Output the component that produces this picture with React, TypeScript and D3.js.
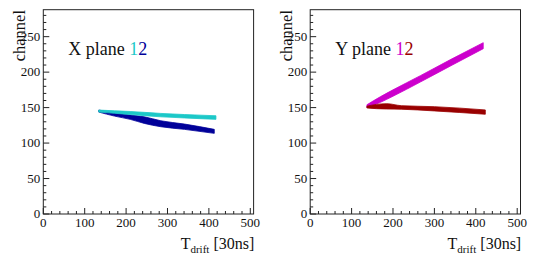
import React from 'react';
import * as d3 from 'd3';

// drift-time samples and channel bands (lower / upper edge)
const xPlane1T = [134, 172, 210, 244, 284, 341, 417];
const xPlane1Lo = [143.7, 142.0, 140.2, 138.6, 137.0, 135.4, 133.4];
const xPlane1Hi = [146.5, 145.5, 144.5, 143.3, 141.8, 140.2, 138.5];

const xPlane2T = [134, 172, 210, 244, 284, 341, 413];
const xPlane2Lo = [143.7, 138.0, 133.4, 127.7, 123.0, 119.3, 113.7];
const xPlane2Hi = [146.5, 142.7, 139.4, 137.0, 131.4, 126.8, 119.3];

const yPlane1T = [137, 170, 200, 266, 340, 418];
const yPlane1Lo = [150.0, 157.5, 166.0, 186.0, 209.0, 233.0];
const yPlane1Hi = [154.0, 165.5, 175.0, 195.0, 218.0, 241.5];

const yPlane2T = [137, 160, 185, 220, 300, 423];
const yPlane2Lo = [149.5, 148.5, 148.0, 147.7, 145.3, 140.6];
const yPlane2Hi = [152.0, 154.5, 155.5, 152.7, 151.3, 146.7];

const xMajor = [0, 100, 200, 300, 400, 500];
const yMajor = [0, 50, 100, 150, 200, 250];

const serif = { fontFamily: "'Liberation Serif'" };

const makeBand = (t, lo, hi) => t.map((v, i) => ({ t: v, lo: lo[i], hi: hi[i] }));

const Panel = ({ left, label, bands, c1, c2 }) => {
  const x = d3.scaleLinear().domain([0, 508]).range([left, left + 210.3]);
  const y = d3.scaleLinear().domain([0, 288]).range([214, 9.7]);

  const area = d3.area()
    .x(d => x(d.t))
    .y0(d => y(d.lo))
    .y1(d => y(d.hi))
    .curve(d3.curveMonotoneX);

  const xMinor = d3.range(0, 501, 20);
  const yMinor = d3.range(0, 281, 10);

  return (
    <g>
      {bands.map((b, i) => (
        <path key={i} d={area(b.data)} fill={b.color} stroke={b.color} strokeWidth={0.8} />
      ))}

      <rect x={x(0)} y={y(288)} width={x(508) - x(0)} height={y(0) - y(288)}
        fill="none" stroke="#222" strokeWidth={1} />

      {xMinor.map(v => (
        <line key={'xm' + v} x1={x(v)} x2={x(v)} y1={214}
          y2={214 - (v % 100 === 0 ? 6 : 3)} stroke="#222" />
      ))}
      {yMinor.map(v => (
        <line key={'ym' + v} x1={x(0)} x2={x(0) + (v % 50 === 0 ? 6 : 3)}
          y1={y(v)} y2={y(v)} stroke="#222" />
      ))}

      {xMajor.map(v => (
        <text key={'xl' + v} x={x(v)} y={227} textAnchor="middle"
          style={serif} fontSize={13} fill="#111">{v}</text>
      ))}
      {yMajor.map(v => (
        <text key={'yl' + v} x={x(0) - 3} y={y(v) + 4} textAnchor="end"
          style={serif} fontSize={13} fill="#111">{v}</text>
      ))}

      <text transform={`translate(${left - 18},10) rotate(-90)`} textAnchor="end"
        style={serif} fontSize={16.5} fill="#111">channel</text>

      <text x={left + 211} y={249} textAnchor="end" style={serif} fontSize={16} fill="#111">
        T<tspan fontSize={11} dy={3.5}>drift</tspan><tspan dy={-3.5}> [30ns]</tspan>
      </text>

      <text x={left + 25} y={55} style={serif} fontSize={18} fill="#111">
        {label}
        <tspan fill={c1}> 1</tspan>
        <tspan fill={c2}>2</tspan>
      </text>
    </g>
  );
};

export default function App() {
  return (
    <svg width={534} height={255} style={{ position: 'absolute', left: 0, top: 0, background: '#fff' }}>
      <Panel left={43.3} label="X plane" c1="#1cc8c8" c2="#000099"
        bands={[
          { color: '#000099', data: makeBand(xPlane2T, xPlane2Lo, xPlane2Hi) },
          { color: '#1cc8c8', data: makeBand(xPlane1T, xPlane1Lo, xPlane1Hi) },
        ]} />
      <Panel left={310.2} label="Y plane" c1="#cc00cc" c2="#990000"
        bands={[
          { color: '#cc00cc', data: makeBand(yPlane1T, yPlane1Lo, yPlane1Hi) },
          { color: '#990000', data: makeBand(yPlane2T, yPlane2Lo, yPlane2Hi) },
        ]} />
    </svg>
  );
}
